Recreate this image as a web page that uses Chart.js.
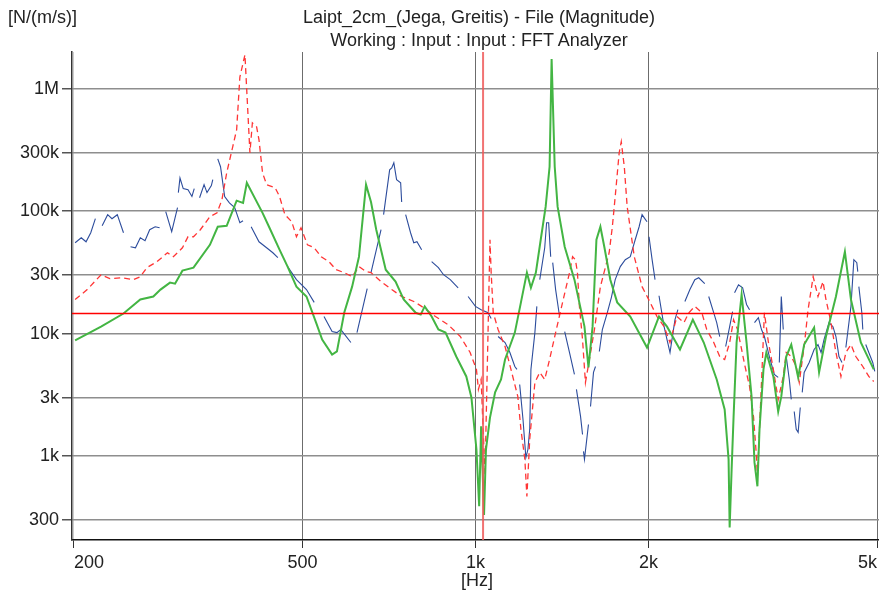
<!DOCTYPE html>
<html>
<head>
<meta charset="utf-8">
<script src="https://cdn.jsdelivr.net/npm/chart.js@4.4.0/dist/chart.umd.min.js"></script>
<style>
  html, body { margin: 0; padding: 0; background: #fff; }
  .wrap { position: relative; width: 879px; height: 590px; overflow: hidden; font-family: "Liberation Sans", Arial, sans-serif; color: #222; }
  .wrap canvas { position: absolute; left: 0; top: 0; }
  .txt { position: absolute; font-size: 18px; line-height: 22px; white-space: nowrap; }
  .center { width: 500px; text-align: center; }
</style>
</head>
<body>
<div class="wrap">
  <canvas id="fftChart" width="879" height="590"></canvas>
  <div class="txt" style="left:8px; top:6px;">[N/(m/s)]</div>
  <div class="txt center" style="left:229px; top:6px;">Laipt_2cm_(Jega, Greitis) - File (Magnitude)</div>
  <div class="txt center" style="left:229px; top:29px;">Working : Input : Input : FFT Analyzer</div>
  <div class="txt center" style="left:227px; top:569px;">[Hz]</div>
</div>
<script>
// Ašys
const xTicks = [200, 500, 1000, 2000, 5000];
const xTickLabels = ['200', '500', '1k', '2k', '5k'];
const yTicks = [300, 1000, 3000, 10000, 30000, 100000, 300000, 1000000];
const yTickLabels = ['300', '1k', '3k', '10k', '30k', '100k', '300k', '1M'];
const xMin = 198.5, xMax = 5040;
const yMin = 206, yMax = 2000000;

// Kursoriai
const cursorFreq = 1031;
const cursorLevel = 14600;

// Žalia kreivė
const greenFreq = [
  201, 223, 244, 261, 275, 283, 294, 300, 309, 323,
  345, 356, 369, 384, 394, 400, 426, 438, 456, 471,
  488, 508, 528, 541, 563, 574, 591, 610, 627, 645,
  658, 672, 698, 726, 750, 787, 803, 816, 839, 862,
  887, 926, 964, 984, 1004, 1015, 1023, 1035, 1043, 1060,
  1082, 1108, 1126, 1171, 1200, 1229, 1249, 1274, 1299, 1325,
  1346, 1357, 1374, 1390, 1430, 1487, 1548, 1573, 1599, 1624,
  1650, 1676, 1717, 1765, 1860, 1989, 2087, 2155, 2270, 2390,
  2497, 2630, 2715, 2758, 2770, 2792, 2814, 2848, 2906, 2964,
  3024, 3060, 3096, 3122, 3172, 3209, 3300, 3365, 3407, 3475,
  3546, 3645, 3734, 3886, 3964, 4075, 4241, 4396, 4504, 4686, 4935
];
const greenMag = [
  8800, 11400, 14600, 19000, 20100, 22900, 26100, 25600, 32700, 34600,
  53200, 74700, 76100, 122000, 117000, 171000, 97000, 73300, 48500, 35300,
  24200, 20100, 12300, 8950, 6750, 7150, 14800, 24200, 42500, 165000,
  119000, 70600, 33300, 26600, 19000, 14800, 14300, 16700, 13800, 10800,
  10200, 6500, 4470, 3010, 1130, 389, 1750, 330, 1130, 2060,
  3310, 4220, 6150, 10200, 18000, 31500, 23700, 31500, 58500, 109000,
  231000, 1750000, 231000, 109000, 51300, 27600, 11400, 5290, 11400, 58500,
  74700, 51300, 27600, 18000, 13800, 7700, 13800, 11400, 7420, 13000,
  8460, 4220, 2400, 939, 261, 778, 2100, 8460, 20800, 8460,
  3070, 887, 566, 1650, 5100, 7010, 4470, 2310, 3070, 6500,
  8140, 4390, 8140, 11200, 4820, 9470, 20100, 46700, 19000, 8460, 5100
];

// Raudona (brūkšninė) kreivė
const redFreq = [
  201, 211, 223, 231, 242, 254, 261, 268, 279, 291,
  298, 309, 316, 323, 332, 345, 355, 362, 369, 378,
  384, 389, 397, 405, 409, 416, 420, 426, 433, 448,
  456, 466, 479, 488, 497, 510, 524, 539, 556, 572,
  591, 610, 627, 645, 658, 685, 715, 744, 781, 806,
  852, 897, 941, 979, 1004, 1012, 1023, 1039, 1052, 1060,
  1065, 1074, 1095, 1126, 1153, 1185, 1200, 1219, 1229, 1243,
  1269, 1294, 1320, 1346, 1379, 1418, 1458, 1476, 1493, 1505,
  1517, 1536, 1554, 1579, 1611, 1650, 1709, 1731, 1751, 1779,
  1794, 1816, 1837, 1890, 1950, 2014, 2070, 2130, 2181, 2242,
  2306, 2352, 2409, 2478, 2527, 2599, 2662, 2715, 2770, 2814,
  2859, 2906, 2941, 3000, 3048, 3084, 3096, 3122, 3147, 3184,
  3234, 3300, 3365, 3434, 3475, 3546, 3617, 3661, 3734, 3793,
  3871, 3947, 4027, 4075, 4158, 4241, 4327, 4413, 4504, 4593,
  4723, 4838, 4935
];
const redMag = [
  19000, 22900, 30300, 28100, 28600, 27600, 29200, 34600, 38700, 45800,
  42500, 50300, 61900, 61900, 70600, 90300, 97000, 124000, 206000, 336000,
  463000, 1250000, 1900000, 300000, 527000, 489000, 383000, 206000, 165000, 156000,
  132000, 93700, 82000, 61900, 73300, 53200, 50300, 42500, 38700, 33300,
  31500, 29200, 35300, 32100, 31500, 26600, 22900, 20100, 18300, 16700,
  13800, 11800, 9470, 7010, 5100, 3500, 4220, 700, 10800, 58500,
  31500, 14800, 10800, 7850, 5100, 3070, 1650, 939, 468, 1370,
  3990, 4820, 4220, 6150, 10200, 18000, 31500, 42500, 40200, 31500,
  16700, 8950, 3990, 6150, 10800, 24200, 45800, 74700, 132000, 300000,
  369000, 231000, 109000, 42500, 24200, 18000, 13800, 11400, 8460, 13800,
  12300, 14800, 16700, 14800, 10800, 8460, 6500, 6150, 8460, 13000,
  10800, 7420, 5600, 3700, 2100, 991, 682, 1650, 3990, 14800,
  8620, 5100, 2900, 4470, 7010, 6500, 5390, 3990, 7850, 15700,
  29200, 20100, 26600, 19000, 12300, 7010, 4470, 7010, 8140, 6500,
  5390, 4470, 4060
];

// Mėlyna kreivė (null = tarpas)
const blueFreq = [
  201, 206, 210, 214, 218, null,
  224, 229, 233, 238, 244, null,
  251, 256, 261, 266, 271, 277, 282, null,
  289, 296, 303, null,
  304, 306, 310, 316, 321, 324, null,
  331, 337, 341, 347, 349, null,
  356, 360, 366, 373, 381, 389, 394, null,
  407, 420, 433, 444, 453, null,
  471, 488, 508, 524, null,
  545, 563, 574, 583, 607, null,
  622, 648, null,
  658, 685, null,
  692, 709, 715, 721, 729, 741, 744, null,
  756, 771, 781, 791, 806, null,
  839, 862, 880, 904, 933, null,
  971, 1000, 1023, 1052, 1065, null,
  1095, 1126, 1148, 1171, 1181, null,
  1194, 1210, 1224, 1234, 1243, 1249, 1269, 1279, null,
  1294, 1320, 1330, 1341, 1352, null,
  1363, 1379, 1401, null,
  1430, 1458, 1487, null,
  1499, 1524, 1536, null,
  1542, 1548, 1573, null,
  1586, 1605, 1618, null,
  1643, 1663, 1696, 1724, 1751, 1787, 1823, 1860, 1897, 1927, 1950, 1966, 1989, null,
  2005, 2030, 2054, null,
  2087, 2113, 2130, 2155, 2181, 2225, 2251, null,
  2315, 2362, 2409, 2447, 2507, null,
  2547, 2599, 2630, 2662, null,
  2726, 2770, 2803, null,
  2825, 2870, 2918, 2964, 3000, null,
  3060, 3108, 3147, 3184, 3248, 3313, 3365, null,
  3380, 3407, 3434, null,
  3475, 3518, 3546, null,
  3588, 3617, 3645, 3676, null,
  3705, 3734, 3810, 3886, 3947, 3996, 4043, 4125, 4191, 4241, 4293, 4345, null,
  4413, 4504, 4557, 4611, 4629, null,
  4649, 4705, 4723, null,
  4779, 4838, 4915, 4955
];
const blueMag = [
  55300, 60700, 56300, 66700, 86900, null,
  76100, 93700, 86900, 93700, 66700, null,
  51300, 50300, 60700, 57400, 70600, 74700, 73300, null,
  99200, 68000, 107000, null,
  142000, 187000, 153000, 150000, 132000, 153000, null,
  129000, 165000, 142000, 162000, 181000, null,
  268000, 231000, 132000, 117000, 107000, 80500, 83600, null,
  74700, 56300, 50300, 45800, 41700, null,
  35300, 27600, 22900, 18000, null,
  13800, 10400, 10200, 10800, 8460, null,
  10200, 23300, null,
  31500, 70600, null,
  93700, 218000, 226000, 249000, 181000, 171000, 119000, null,
  93700, 66700, 55300, 56300, 48500, null,
  38700, 34600, 30300, 27600, 23700, null,
  20100, 16700, 15700, 14800, 13300, null,
  9470, 8460, 7010, 5390, 5100, null,
  3840, 1990, 972, 1130, 1650, 5100, 10200, 16700, null,
  27600, 50300, 80500, 80500, 42500, null,
  38000, 22900, 13800, null,
  10400, 7010, 4640, null,
  3500, 2100, 1500, null,
  1090, 939, 1810, null,
  2540, 4820, 5390, null,
  7150, 10800, 14800, 19700, 27600, 35300, 40200, 42500, 58500, 74700, 93700, 88600, 82000, null,
  61900, 40200, 27600, null,
  20400, 14300, 11400, 8950, 7010, 13000, 15700, null,
  18300, 22900, 27600, 28600, 25600, null,
  20100, 14800, 12300, 9470, null,
  7850, 11400, 15100, null,
  21600, 25100, 23700, 17300, 15700, null,
  12300, 13500, 10800, 9470, 6500, 4640, 4390, null,
  5810, 20100, 10800, null,
  6500, 4220, 2900, null,
  2310, 1650, 1560, 2490, null,
  3310, 4820, 5810, 7420, 8140, 7010, 8950, 12300, 11400, 9470, 6500, 5810, null,
  7700, 16700, 40200, 38000, 32100, null,
  24200, 14800, 10800, null,
  8140, 7010, 5810, 4910
];

function toPoints(freqs, mags) {
  return freqs.map((f, i) => ({ x: f === null ? freqs[i - 1] : f, y: mags[i] }));
}

const fontFamily = '"Liberation Sans", Arial, sans-serif';
Chart.defaults.font.family = fontFamily;

new Chart(document.getElementById('fftChart'), {
  type: 'line',
  data: {
    datasets: [
      {
        label: 'cursor f',
        data: [{ x: cursorFreq, y: yMin }, { x: cursorFreq, y: yMax }],
        borderColor: 'rgba(238, 90, 90, 0.85)',
        borderWidth: 2,
        order: 0
      },
      {
        label: 'cursor level',
        data: [{ x: xMin, y: cursorLevel }, { x: xMax, y: cursorLevel }],
        borderColor: 'rgb(255, 0, 0)',
        backgroundColor: 'rgb(255, 0, 0)',
        borderWidth: 1.4,
        order: 0
      },
      {
        label: 'green',
        data: toPoints(greenFreq, greenMag),
        borderColor: '#43b543',
        borderWidth: 2,
        order: 1
      },
      {
        label: 'red',
        data: toPoints(redFreq, redMag),
        borderColor: '#ff3535',
        borderWidth: 1.3,
        borderDash: [6, 4],
        order: 2
      },
      {
        label: 'blue',
        data: toPoints(blueFreq, blueMag),
        borderColor: '#2c4c9c',
        borderWidth: 1.1,
        order: 3
      }
    ]
  },
  options: {
    responsive: false,
    animation: false,
    devicePixelRatio: 1,
    spanGaps: false,
    elements: { point: { radius: 0 }, line: { tension: 0 } },
    layout: { padding: { top: 52, left: 0, right: 0, bottom: 0 } },
    plugins: { legend: { display: false }, tooltip: { enabled: false } },
    scales: {
      x: {
        type: 'logarithmic',
        min: xMin,
        max: xMax,
        afterBuildTicks: s => { s.ticks = xTicks.map(v => ({ value: v })); },
        afterFit: s => { s.height = 50; s.paddingLeft = 0; s.paddingRight = 0; },
        ticks: {
          callback: (v, i) => xTickLabels[i],
          autoSkip: false,
          maxRotation: 0,
          align: 'inner',
          padding: 4,
          color: '#222',
          font: { size: 18 }
        },
        grid: {
          color: ctx => (ctx.tick && ctx.tick.value === 200) ? '#cccccc' : '#6c6c6c',
          lineWidth: 1,
          tickLength: 8,
          tickColor: '#333'
        },
        border: { display: true, color: '#111', width: 1.5 }
      },
      y: {
        type: 'logarithmic',
        min: yMin,
        max: yMax,
        afterBuildTicks: s => { s.ticks = yTicks.map(v => ({ value: v })); },
        afterFit: s => { s.width = 72; s.paddingTop = 0; s.paddingBottom = 0; },
        ticks: {
          callback: (v, i) => yTickLabels[i],
          autoSkip: false,
          padding: 3,
          color: '#222',
          font: { size: 18 }
        },
        grid: {
          color: '#8e8e8e',
          lineWidth: 1.5,
          tickLength: 10,
          tickColor: '#555'
        },
        border: { display: true, color: '#333', width: 1.5 }
      }
    }
  }
});
</script>
</body>
</html>
